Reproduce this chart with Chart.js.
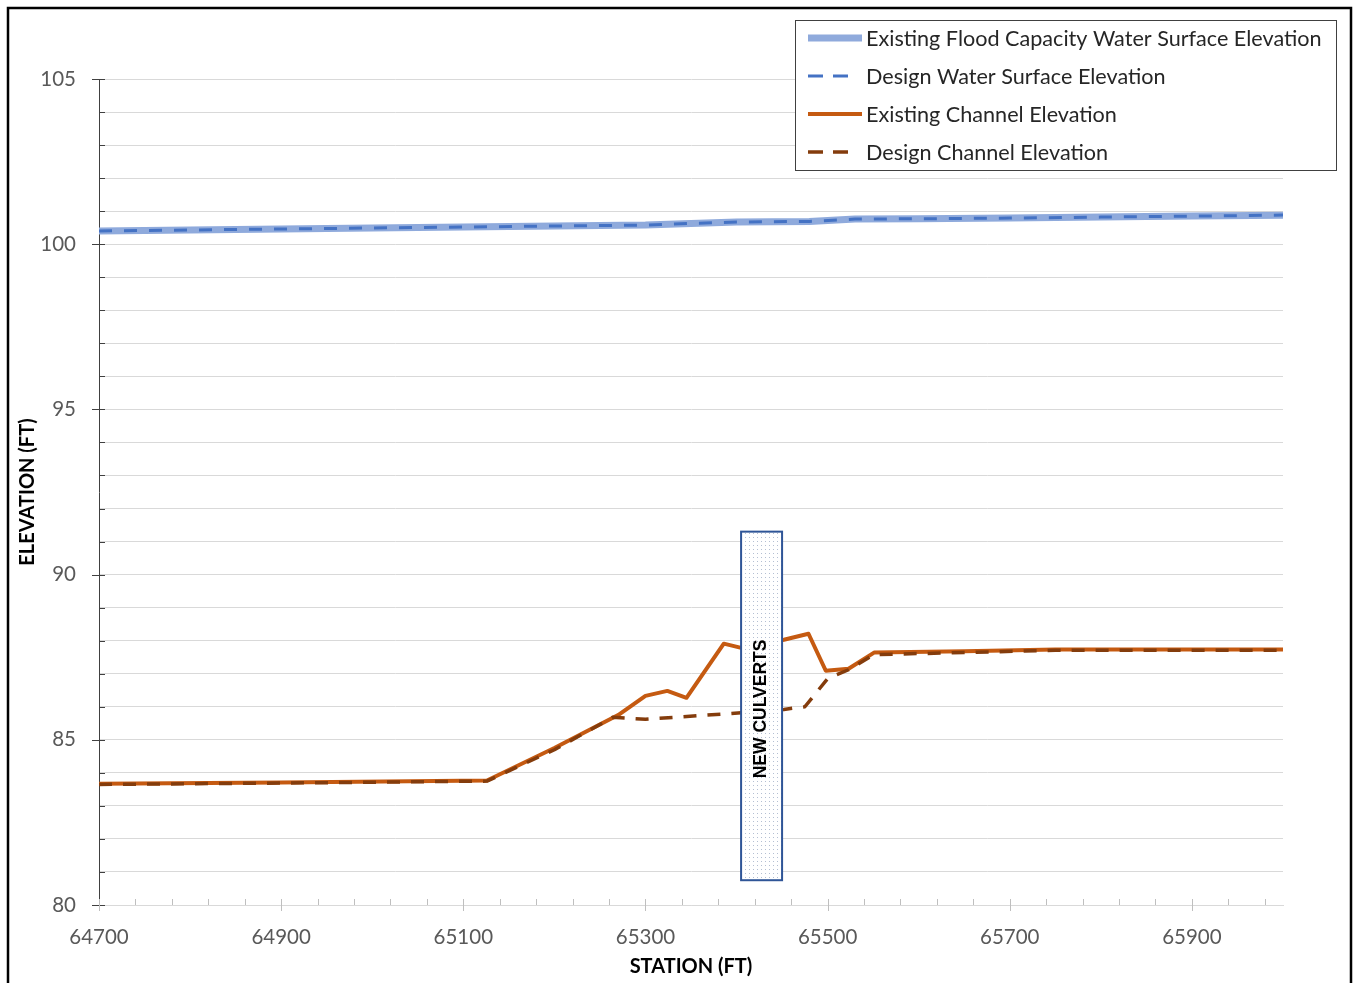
<!DOCTYPE html>
<html>
<head>
<meta charset="utf-8">
<script src="https://cdn.jsdelivr.net/npm/chart.js@4"></script>
<style>
  html, body { margin: 0; padding: 0; background: #fff; }
  #wrap { position: relative; width: 1354px; height: 983px; }
  canvas { display: block; }
</style>
</head>
<body>
<div id="wrap"><canvas id="c" width="1354" height="983"></canvas></div>
<script>
// ---- Data ----
const wsStations = [64700, 64800, 64900, 65000, 65100, 65200, 65300, 65350, 65400, 65480, 65530, 65600, 65700, 65800, 65900, 66000];
const existingWSE = [100.40, 100.43, 100.46, 100.49, 100.52, 100.55, 100.58, 100.63, 100.67, 100.69, 100.76, 100.77, 100.79, 100.82, 100.85, 100.88];
const designWSE   = [100.40, 100.43, 100.46, 100.49, 100.52, 100.55, 100.58, 100.63, 100.67, 100.69, 100.76, 100.77, 100.79, 100.82, 100.85, 100.88];

const existingChStations = [64700, 64900, 65126, 65200, 65270, 65300, 65324, 65345, 65386, 65404, 65452, 65479, 65498, 65523, 65551, 65650, 65750, 66000];
const existingChannel    = [83.67, 83.71, 83.77, 84.75, 85.75, 86.33, 86.48, 86.27, 87.91, 87.79, 88.03, 88.21, 87.09, 87.15, 87.64, 87.68, 87.73, 87.73];

const designChStations = [64700, 64900, 65126, 65200, 65264, 65300, 65390, 65452, 65475, 65500, 65523, 65551, 65650, 65750, 66000];
const designChannel    = [83.65, 83.69, 83.75, 84.70, 85.68, 85.62, 85.79, 85.92, 86.00, 86.85, 87.12, 87.58, 87.64, 87.71, 87.71];

const seriesLabels = [
  'Existing Flood Capacity Water Surface Elevation',
  'Design Water Surface Elevation',
  'Existing Channel Elevation',
  'Design Channel Elevation'
];

const xRange = [64700, 66000];
const yRange = [80, 105];
const xMajorTicks = [64700, 64900, 65100, 65300, 65500, 65700, 65900];
const xMinorStep = 40;
const yMajorTicks = [80, 85, 90, 95, 100, 105];

const culvertStations = [65405, 65450];
const culvertElev = [80.75, 91.3];
const culvertLabel = 'NEW CULVERTS';

const xTitle = 'STATION (FT)';
const yTitle = 'ELEVATION (FT)';

// ---- helpers ----
function pts(xs, ys) { return xs.map((x, i) => ({ x: x, y: ys[i] })); }

const xTickVals = [];
for (let v = xRange[0]; v <= xRange[1]; v += xMinorStep) xTickVals.push(v);

const C_WS_EX = '#8faadc', C_WS_DS = '#4472c4', C_CH_EX = '#c55a11', C_CH_DS = '#843c0c';

const datasets = [
  { label: seriesLabels[0], data: pts(wsStations, existingWSE), borderColor: C_WS_EX, borderWidth: 7, order: 3 },
  { label: seriesLabels[1], data: pts(wsStations, designWSE), borderColor: C_WS_DS, borderWidth: 3, borderDash: [13, 12], order: 2 },
  { label: seriesLabels[2], data: pts(existingChStations, existingChannel), borderColor: C_CH_EX, borderWidth: 4, order: 1 },
  { label: seriesLabels[3], data: pts(designChStations, designChannel), borderColor: C_CH_DS, borderWidth: 3.5, borderDash: [13, 11], order: 0 }
];
datasets.forEach(d => { d.pointRadius = 0; d.tension = 0; d.fill = false; d.borderCapStyle = 'butt'; d.borderJoinStyle = 'round'; });

const LABEL_FONT = 'Lato, "Open Sans", sans-serif';

const decorPlugin = {
  id: 'decor',
  afterDatasetsDraw(chart) {
    const ctx = chart.ctx, xs = chart.scales.x, ys = chart.scales.y;
    // Culvert box
    const x1 = xs.getPixelForValue(culvertStations[0]), x2 = xs.getPixelForValue(culvertStations[1]);
    const y1 = ys.getPixelForValue(culvertElev[1]), y2 = ys.getPixelForValue(culvertElev[0]);
    const pc = document.createElement('canvas'); pc.width = 4; pc.height = 4;
    const pctx = pc.getContext('2d');
    pctx.fillStyle = '#ffffff'; pctx.fillRect(0, 0, 4, 4);
    pctx.fillStyle = '#b4bfd2'; pctx.fillRect(1, 1, 1, 1);
    ctx.save();
    ctx.fillStyle = ctx.createPattern(pc, 'repeat');
    ctx.fillRect(x1, y1, x2 - x1, y2 - y1);
    ctx.strokeStyle = '#2f5597'; ctx.lineWidth = 2;
    ctx.strokeRect(x1, y1, x2 - x1, y2 - y1);
    ctx.translate((x1 + x2) / 2, (y1 + y2) / 2 + 3);
    ctx.rotate(-Math.PI / 2);
    ctx.fillStyle = '#000'; ctx.font = 'bold 17.5px "Liberation Sans", Arial, sans-serif';
    ctx.textAlign = 'center'; ctx.textBaseline = 'middle';
    ctx.fillText(culvertLabel, 0, 0);
    ctx.restore();
  },
  afterDraw(chart) {
    const ctx = chart.ctx, xs = chart.scales.x, ys = chart.scales.y, a = chart.chartArea;
    ctx.save();
    // y tick marks
    ctx.strokeStyle = '#404040'; ctx.lineWidth = 1;
    ys.ticks.forEach(t => {
      const y = Math.round(ys.getPixelForValue(t.value)) + 0.5;
      const major = yMajorTicks.includes(t.value);
      ctx.beginPath();
      ctx.moveTo(major ? a.left - 7 : a.left, y);
      ctx.lineTo(a.left + 6, y);
      ctx.stroke();
    });
    // x tick marks
    ctx.strokeStyle = '#bfbfbf';
    xTickVals.forEach(v => {
      const x = Math.round(xs.getPixelForValue(v)) + 0.5;
      const major = xMajorTicks.includes(v);
      ctx.beginPath();
      ctx.moveTo(x, a.bottom - 6);
      ctx.lineTo(x, major ? a.bottom + 6 : a.bottom);
      ctx.stroke();
    });
    // axis titles
    ctx.fillStyle = '#000';
    ctx.font = 'bold 20px ' + LABEL_FONT;
    ctx.textAlign = 'center'; ctx.textBaseline = 'middle';
    ctx.fillText(xTitle, (a.left + a.right) / 2, 967);
    ctx.save();
    ctx.translate(28, (a.top + a.bottom) / 2);
    ctx.rotate(-Math.PI / 2);
    ctx.fillText(yTitle, 0, 0);
    ctx.restore();
    // legend
    const lx = 795, ly = 20, lw = 541, lh = 150;
    ctx.fillStyle = '#fff'; ctx.fillRect(lx, ly, lw, lh);
    ctx.strokeStyle = '#404040'; ctx.lineWidth = 1;
    ctx.strokeRect(lx + 0.5, ly + 0.5, lw, lh);
    const rows = [38, 76, 114, 152];
    chart.data.datasets.forEach((d, i) => {
      const y = rows[i];
      ctx.save();
      ctx.strokeStyle = d.borderColor; ctx.lineWidth = d.borderWidth;
      ctx.lineCap = 'butt';
      if (d.borderDash) ctx.setLineDash([15, 10]);
      ctx.beginPath();
      ctx.moveTo(808, y);
      ctx.lineTo(d.borderDash ? 850 : 862, y);
      ctx.stroke();
      ctx.restore();
      ctx.fillStyle = '#262626';
      ctx.font = '21.6px ' + LABEL_FONT;
      ctx.textAlign = 'left'; ctx.textBaseline = 'middle';
      ctx.fillText(d.label, 866, y + 1);
    });
    // outer frame
    ctx.strokeStyle = '#000'; ctx.lineWidth = 2.5;
    ctx.beginPath();
    ctx.moveTo(8, 1000); ctx.lineTo(8, 8); ctx.lineTo(1351, 8); ctx.lineTo(1351, 1000);
    ctx.stroke();
    ctx.restore();
  }
};

new Chart(document.getElementById('c'), {
  type: 'line',
  data: { datasets: datasets },
  plugins: [decorPlugin],
  options: {
    responsive: false,
    animation: false,
    devicePixelRatio: 1,
    layout: { padding: { left: 0, top: 79, right: 71, bottom: 0 } },
    plugins: { legend: { display: false }, tooltip: { enabled: false } },
    scales: {
      x: {
        type: 'linear', min: xRange[0], max: xRange[1],
        afterFit: s => { s.height = 78; },
        afterBuildTicks: s => { s.ticks = xTickVals.map(v => ({ value: v })); },
        grid: { drawOnChartArea: false, drawTicks: false },
        border: { color: '#d9d9d9', width: 1 },
        ticks: {
          autoSkip: false, maxRotation: 0, padding: 20,
          color: '#595959', font: { family: LABEL_FONT, size: 20.5 },
          callback: v => xMajorTicks.includes(v) ? String(v) : ''
        }
      },
      y: {
        min: yRange[0], max: yRange[1],
        afterFit: s => { s.width = 99; },
        grid: { color: '#d9d9d9', lineWidth: 1, drawTicks: false },
        border: { color: '#404040', width: 1 },
        ticks: {
          stepSize: 1, autoSkip: false, padding: 23,
          color: '#595959', font: { family: LABEL_FONT, size: 20.5 },
          callback: v => yMajorTicks.includes(v) ? String(v) : ''
        }
      }
    }
  }
});
</script>
</body>
</html>
